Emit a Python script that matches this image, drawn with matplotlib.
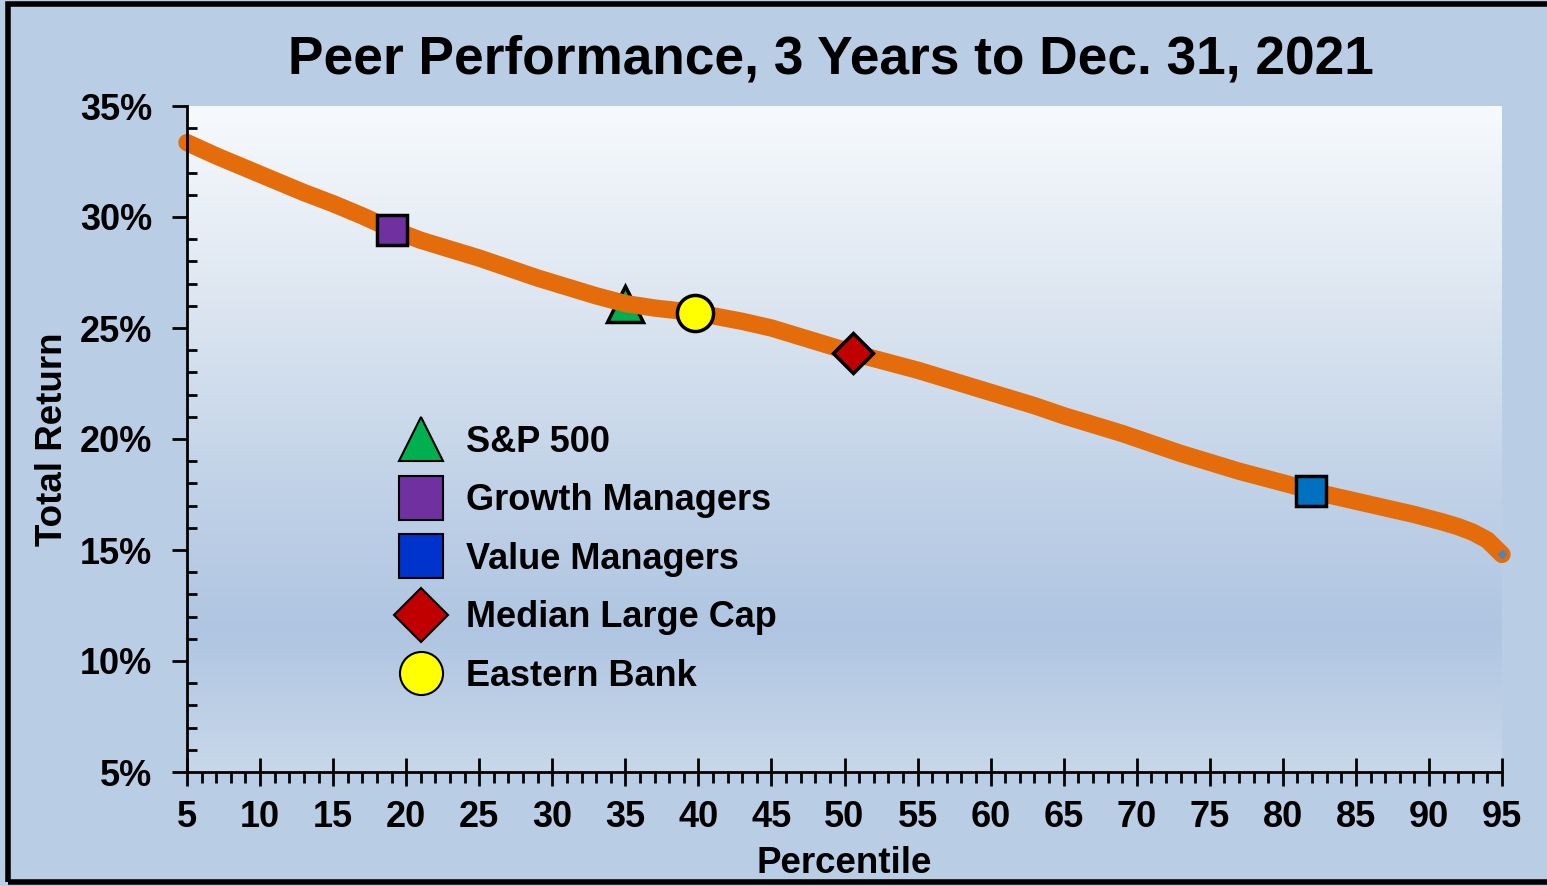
import numpy as np
import matplotlib.pyplot as plt
from matplotlib.lines import Line2D
from matplotlib.patches import Rectangle
from matplotlib.colors import LinearSegmentedColormap
from matplotlib.ticker import MultipleLocator, FuncFormatter

plt.rcParams['font.family'] = ['Liberation Sans', 'DejaVu Sans']
plt.rcParams['font.weight'] = 'bold'

# peer universe curve (percentile -> 3yr total return, %)
pct = [5, 7, 9, 11, 13, 15, 17, 19, 21, 23, 25, 27, 29, 31, 33, 35, 37, 39, 41, 43, 45, 47, 49,
       51, 53, 55, 57, 59, 61, 63, 65, 67, 69, 71, 73, 75, 77, 79, 81, 83, 85, 87, 89, 91, 92,
       93, 94, 95]
ret = [33.35, 32.75, 32.2, 31.65, 31.1, 30.6, 30.05, 29.45, 28.95, 28.55, 28.15, 27.7, 27.25,
       26.85, 26.45, 26.1, 25.9, 25.75, 25.55, 25.3, 25.0, 24.6, 24.2, 23.8, 23.45, 23.1, 22.7,
       22.3, 21.9, 21.5, 21.05, 20.65, 20.25, 19.8, 19.35, 18.95, 18.55, 18.2, 17.85, 17.5, 17.2,
       16.9, 16.6, 16.25, 16.05, 15.8, 15.45, 14.8]

# highlighted funds
names = ['S&P 500', 'Growth Managers', 'Value Managers', 'Median Large Cap', 'Eastern Bank']
pt_pct = [35.0, 19.0, 81.9, 50.6, 39.8]
pt_ret = [26.1, 29.4, 17.65, 23.87, 25.68]
markers = ['^', 's', 's', 'D', 'o']
colors = ['#00B050', '#7030A0', '#0070C0', '#C00000', '#FFFF00']
legend_colors = ['#00B050', '#7030A0', '#0033CC', '#C00000', '#FFFF00']
sizes = [26, 22, 22, 20, 26]
legend_sizes = [31, 31, 31, 27, 31]

fig = plt.figure(figsize=(15.47, 8.86), dpi=100)
fig.patch.set_facecolor('#B9CDE5')
fig.patches.append(Rectangle((8 / 1547, 4 / 886), 1.2, 878 / 886, transform=fig.transFigure,
                             fill=False, edgecolor='black', linewidth=4, zorder=10))

ax = fig.add_axes([187 / 1547, 1 - 772 / 886, 1315 / 1547, 666 / 886])
ax.set_facecolor('none')

# background gradient of the plot area
grad_cmap = LinearSegmentedColormap.from_list('bg', [
    (0.0, '#C8D8EA'), (0.21, '#AFC5E1'), (0.41, '#BFD1E7'), (0.71, '#DDE6F1'), (1.0, '#F7FAFD')])
ax.imshow(np.linspace(0, 1, 256).reshape(-1, 1), cmap=grad_cmap, aspect='auto',
          extent=[0, 1, 0, 1], transform=ax.transAxes, origin='lower', zorder=0)

ax.plot(pct, ret, color='#E46C0A', linewidth=12.5, solid_capstyle='round',
        solid_joinstyle='round', zorder=3, clip_on=False)
ax.plot(pct[-1], ret[-1], marker='D', color='#4F81BD', markersize=4, zorder=3.5, clip_on=False)

for i in range(len(names)):
    ax.plot(pt_pct[i], pt_ret[i], marker=markers[i], markersize=sizes[i],
            markerfacecolor=colors[i], markeredgecolor='black', markeredgewidth=2.5,
            linestyle='none', zorder=2 if i == 0 else 4)

ax.set_xlim(5, 95)
ax.set_ylim(5, 35)
ax.xaxis.set_major_locator(MultipleLocator(5))
ax.xaxis.set_minor_locator(MultipleLocator(1))
ax.yaxis.set_major_locator(MultipleLocator(5))
ax.yaxis.set_minor_locator(MultipleLocator(1))
ax.yaxis.set_major_formatter(FuncFormatter(lambda v, p: '%d%%' % v))

for s in ['top', 'right']:
    ax.spines[s].set_visible(False)
for s in ['left', 'bottom']:
    ax.spines[s].set_linewidth(2)
    ax.spines[s].set_zorder(5)

ax.tick_params(axis='x', which='major', direction='inout', length=20, width=2, labelsize=26, pad=10)
ax.tick_params(axis='x', which='minor', direction='out', length=8, width=2)
ax.tick_params(axis='y', which='major', direction='out', length=11, width=2, labelsize=26, pad=14)
ax.tick_params(axis='y', which='minor', direction='in', length=7, width=2)

ax.set_xlabel('Percentile', fontsize=26.5, fontweight='bold', labelpad=8)
ax.set_ylabel('Total Return', fontsize=26.5, fontweight='bold', labelpad=7)

fig.text(831 / 1547, 1 - 73 / 886, 'Peer Performance, 3 Years to Dec. 31, 2021',
         ha='center', va='baseline', fontsize=38.3, fontweight='bold')

handles = [Line2D([], [], marker=markers[i], markersize=legend_sizes[i], markerfacecolor=legend_colors[i],
                  markeredgecolor='black', markeredgewidth=1.5, linestyle='none') for i in range(len(names))]
ax.legend(handles, names, loc='center left', bbox_to_anchor=(0.1507, 0.3195), frameon=False,
          prop={'size': 26, 'weight': 'bold'}, labelspacing=0.65, handletextpad=0.63,
          handlelength=1.2, borderaxespad=0)

fig.savefig('out.png', dpi=100, facecolor=fig.get_facecolor())
